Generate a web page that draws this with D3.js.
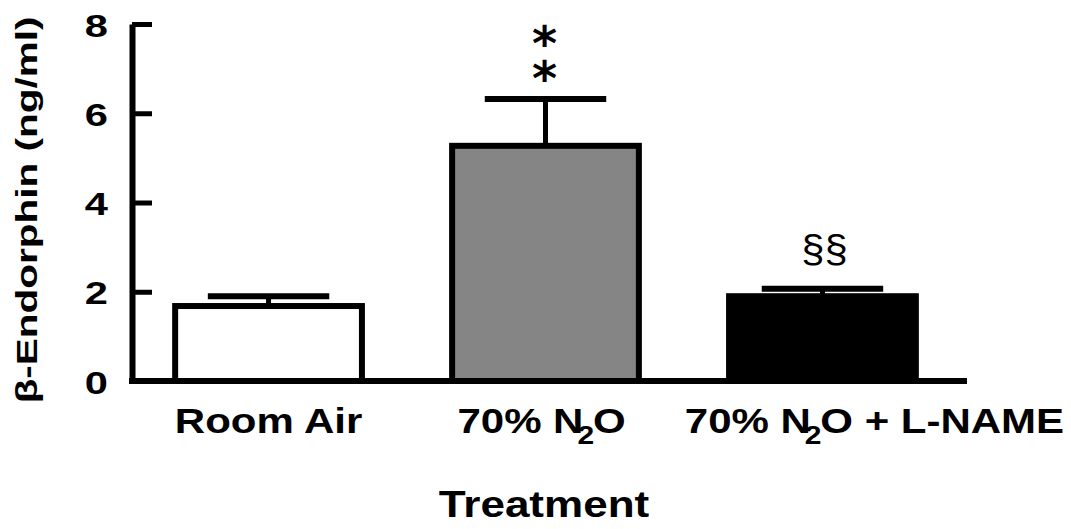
<!DOCTYPE html>
<html>
<head>
<meta charset="utf-8">
<script src="https://cdn.jsdelivr.net/npm/d3@7"></script>
<style>
  body { margin: 0; background: #fff; }
  text { font-family: "Liberation Sans", Arial, sans-serif; fill: #000; }
</style>
</head>
<body>
<div id="chart"></div>
<script>
var categories = ["Room Air", "70% N₂O", "70% N₂O + L-NAME"];
var means = [1.68, 5.27, 1.90];
var sems = [0.22, 1.05, 0.17];
var marks = ["", "*\n*", "§§"];
var yTicks = [0, 2, 4, 6, 8];
var fills = ["#fff", "#858585", "#000"];

var width = 1071, height = 529;
var labelShift = [0, -4, 52];   // category labels are not quite centred under the bars

var svg = d3.select("#chart").append("svg")
  .attr("width", width)
  .attr("height", height);

var x = d3.scaleBand()
  .domain(categories)
  .range([132, 959])
  .paddingInner(0.304)
  .paddingOuter(0.145);

var y = d3.scaleLinear()
  .domain([0, 8])
  .range([381, 24]);

var data = categories.map(function(c, i) {
  return {cat: c, mean: means[i], sem: sems[i], mark: marks[i], fill: fills[i]};
});

// error bars (behind bars)
var err = svg.selectAll("g.err").data(data).enter().append("g").attr("class", "err");
err.append("line")
  .attr("x1", function(d){ return x(d.cat) + x.bandwidth()/2; })
  .attr("x2", function(d){ return x(d.cat) + x.bandwidth()/2; })
  .attr("y1", function(d){ return y(d.mean); })
  .attr("y2", function(d){ return y(d.mean + d.sem); })
  .attr("stroke", "#000").attr("stroke-width", 5);
err.append("line")
  .attr("x1", function(d){ return x(d.cat) + x.bandwidth()*0.185; })
  .attr("x2", function(d){ return x(d.cat) + x.bandwidth()*0.815; })
  .attr("y1", function(d){ return y(d.mean + d.sem); })
  .attr("y2", function(d){ return y(d.mean + d.sem); })
  .attr("stroke", "#000").attr("stroke-width", 6);

// bars
svg.selectAll("rect.bar").data(data).enter().append("rect")
  .attr("class", "bar")
  .attr("x", function(d){ return x(d.cat) + 3; })
  .attr("width", x.bandwidth() - 6)
  .attr("y", function(d){ return y(d.mean); })
  .attr("height", function(d){ return y(0) - y(d.mean); })
  .attr("fill", function(d){ return d.fill; })
  .attr("stroke", "#000")
  .attr("stroke-width", 6);

// significance marks
data.forEach(function(d) {
  if (!d.mark) return;
  var cx = x(d.cat) + x.bandwidth()/2;
  if (d.mark.indexOf("*") >= 0) {
    var st = svg.append("text")
      .attr("transform", "translate(" + (cx - 1) + ",60)")
      .attr("text-anchor", "middle")
      .style("font-family", "DejaVu Sans")
      .style("font-weight", "bold")
      .style("font-size", "48px");
    d.mark.split("\n").forEach(function(s, j) {
      st.append("tspan").attr("x", 0).attr("dy", j ? 34.5 : 0).text(s);
    });
  } else {
    svg.append("text")
      .attr("transform", "translate(" + (cx + 2) + ",262) scale(1.1,1)")
      .attr("text-anchor", "middle")
      .style("font-size", "38px")
      .text(d.mark);
  }
});

// y axis
var yAxis = svg.append("g")
  .attr("transform", "translate(132,0)")
  .call(d3.axisLeft(y).tickValues(yTicks).tickSizeInner(-20).tickSizeOuter(0).tickPadding(24));
yAxis.select(".domain").attr("stroke", "#000").attr("stroke-width", 6);
yAxis.selectAll(".tick line").attr("stroke", "#000").attr("stroke-width", 5);
yAxis.selectAll(".tick text")
  .attr("x", -24/1.3)
  .attr("transform", "scale(1.3,1)")
  .attr("dy", "0.38em")
  .style("font-size", "32px")
  .style("font-weight", "bold");

// x axis line
svg.append("line")
  .attr("x1", 129).attr("x2", x.range()[1] + 8)
  .attr("y1", y(0)).attr("y2", y(0))
  .attr("stroke", "#000").attr("stroke-width", 6);

// category labels with subscript
categories.forEach(function(c, i) {
  var t = svg.append("text")
    .attr("transform", "translate(" + (x(c) + x.bandwidth()/2 + labelShift[i]) + ",433) scale(1.2,1)")
    .attr("text-anchor", "middle")
    .style("font-size", "35px")
    .style("font-weight", "bold");
  var parts = c.split("₂");
  parts.forEach(function(p, j) {
    if (j > 0) {
      t.append("tspan").attr("dx", -5).attr("dy", 11).style("font-size", "25px").text("2");
      t.append("tspan").attr("dx", -1).attr("dy", -11).text(p);
    } else {
      t.append("tspan").text(p);
    }
  });
});

// axis titles
svg.append("text")
  .attr("transform", "translate(544,517) scale(1.19,1)")
  .attr("text-anchor", "middle")
  .style("font-size", "37px")
  .style("font-weight", "bold")
  .text("Treatment");

svg.append("text")
  .attr("transform", "translate(37,210) rotate(-90) scale(1.35,1)")
  .attr("text-anchor", "middle")
  .style("font-size", "30px")
  .style("font-weight", "bold")
  .text("β-Endorphin (ng/ml)");
</script>
</body>
</html>
